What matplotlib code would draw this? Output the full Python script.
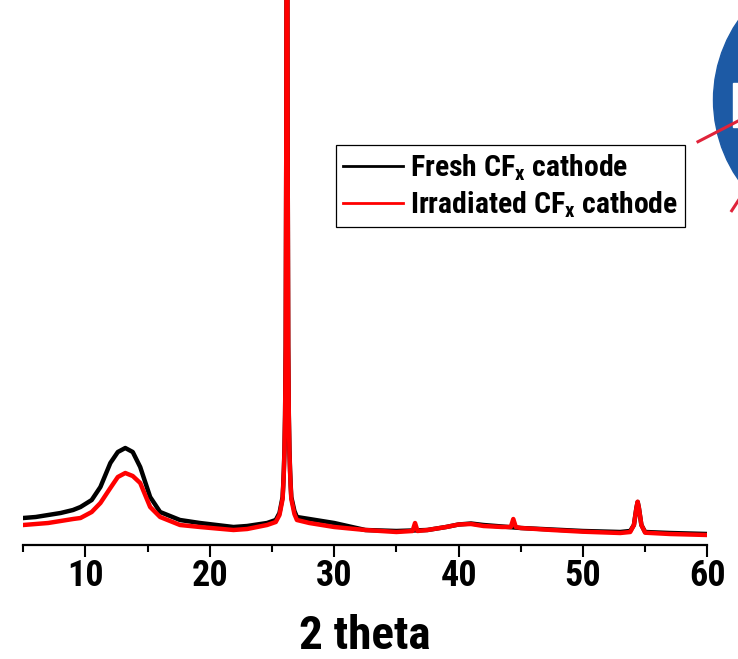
import matplotlib
matplotlib.use('Agg')
import matplotlib.pyplot as plt
from matplotlib.patches import Circle, Rectangle
from matplotlib.lines import Line2D
import numpy as np

FONT = 'Roboto Condensed'
plt.rcParams['font.family'] = [FONT, 'Liberation Sans', 'DejaVu Sans']
plt.rcParams['font.weight'] = 'bold'
plt.rcParams['mathtext.fontset'] = 'custom'
plt.rcParams['mathtext.rm'] = FONT + ':bold'
plt.rcParams['mathtext.it'] = FONT + ':bold'
plt.rcParams['mathtext.bf'] = FONT + ':bold'

# 2 theta (deg) and intensity (a.u.)
two_theta_fresh = [5, 6, 7, 8, 9, 9.6, 10.5, 11.2, 12.0, 12.6, 13.2, 13.8, 14.4, 15.2, 16, 17,
                   17.6, 19.2, 21.9, 23, 24.6, 25.3, 25.6, 25.85, 25.9, 25.95, 26.0, 26.05, 26.1,
                   26.15, 26.2, 26.25, 26.3, 26.35, 26.4, 26.45, 26.5, 26.55, 26.8, 27, 28, 30,
                   32.5, 35, 37.5, 39, 40, 41, 42, 43.5, 45, 47.5, 50, 53, 53.8, 54.1, 54.3,
                   54.4, 54.5, 54.7, 55, 57, 60]
fresh = [27, 28, 30, 32, 35, 38, 45, 58, 82, 93, 97, 93, 78, 48, 33, 28,
         25, 22, 18, 19, 22, 25, 32, 48, 60, 75, 95, 130, 200,
         420, 900, 420, 200, 130, 95, 75, 60, 48, 34, 28, 26, 22,
         15, 14, 15, 18, 20.5, 21.5, 20, 18.5, 17, 15.5, 14, 13, 14, 20, 37,
         43, 37, 20, 13, 12, 11]

two_theta_irr = [5, 6, 7, 8, 9, 9.6, 10.5, 11.2, 12.0, 12.6, 13.2, 13.8, 14.4, 15.2, 16, 17,
                 17.6, 19.2, 21.9, 23, 24.6, 25.3, 25.6, 25.85, 25.9, 25.95, 26.0, 26.05, 26.1,
                 26.15, 26.2, 26.25, 26.3, 26.35, 26.4, 26.45, 26.5, 26.55, 26.8, 27, 28, 30,
                 32.5, 35, 36.3, 36.5, 36.7, 37.5, 39, 40, 41, 42, 43.5, 44.2, 44.4, 44.6, 45,
                 47.5, 50, 53, 53.8, 54.1, 54.3, 54.4, 54.5, 54.7, 55, 57, 60]
irradiated = [20, 21, 22, 24, 26, 27, 33, 42, 57, 68, 72, 69, 62, 38, 28, 23,
              20, 18, 15, 16, 20, 23, 30, 46, 58, 73, 93, 128, 198,
              420, 900, 420, 198, 128, 93, 73, 58, 46, 31, 25, 22, 18,
              15, 13, 14, 22, 14, 15, 18, 20.5, 21, 19, 18, 18, 26, 18, 17,
              15, 13.3, 12, 13, 20, 37, 43.3, 37, 20, 12.3, 11, 10]

fig = plt.figure(figsize=(7.38, 6.59), dpi=100)
ax = fig.add_axes([23.3 / 738, 1 - 545 / 659, 684 / 738, 545 / 659])

ax.plot(two_theta_fresh, fresh, color='black', lw=3.2, label='Fresh CF$_\\mathrm{x}$ cathode')
ax.plot(two_theta_irr, irradiated, color='red', lw=3.2, label='Irradiated CF$_\\mathrm{x}$ cathode')

ax.set_xlim(5, 60)
ax.set_ylim(0, 545)
ax.set_xticks(np.arange(10, 61, 10))
ax.set_xticks(np.arange(5, 61, 10), minor=True)
ax.set_yticks([])
for s in ['left', 'right', 'top']:
    ax.spines[s].set_visible(False)
ax.spines['bottom'].set_linewidth(1.6)
ax.tick_params(axis='x', which='major', direction='out', length=8.6, width=1.5,
               labelsize=26, pad=1)
ax.tick_params(axis='x', which='minor', direction='out', length=5, width=1.5)
for lab in ax.get_xticklabels():
    lab.set_fontweight('bold')

ax.set_xlabel('2 theta', fontsize=34, fontweight='bold')
ax.xaxis.set_label_coords(0.5, (545 - 636) / 545)
ax.xaxis.label.set_va('center')

leg = ax.legend(loc='upper left', bbox_to_anchor=(335.7 / 738, 1 - 145 / 659),
                bbox_transform=fig.transFigure, borderaxespad=0, fancybox=False,
                edgecolor='black', framealpha=1, handlelength=2.0,
                handletextpad=0.25, borderpad=0.25, labelspacing=0.2,
                prop={'family': FONT, 'size': 21.4, 'weight': 'bold'})
leg.get_frame().set_linewidth(0.9)
for h in leg.legend_handles:
    h.set_linewidth(2)

# partial logo at top right corner
tr = fig.dpi_scale_trans
fig.patches.append(Circle((8.535, (659 - 100) / 100), 1.40, transform=tr,
                          color='#1d5aa5', zorder=0))
fig.patches.append(Rectangle((7.33, (659 - 127) / 100), 0.08, 0.44, transform=tr,
                             color='white', zorder=1))
fig.lines.append(Line2D([6.98, 7.40], [(659 - 141.7) / 100, (659 - 120) / 100],
                        transform=tr, color='#e0233a', lw=2.2, zorder=2))
fig.lines.append(Line2D([7.317, 7.40], [(659 - 210.7) / 100, (659 - 198) / 100],
                        transform=tr, color='#e0233a', lw=2.2, zorder=2))

fig.savefig('out.png', dpi=100)
